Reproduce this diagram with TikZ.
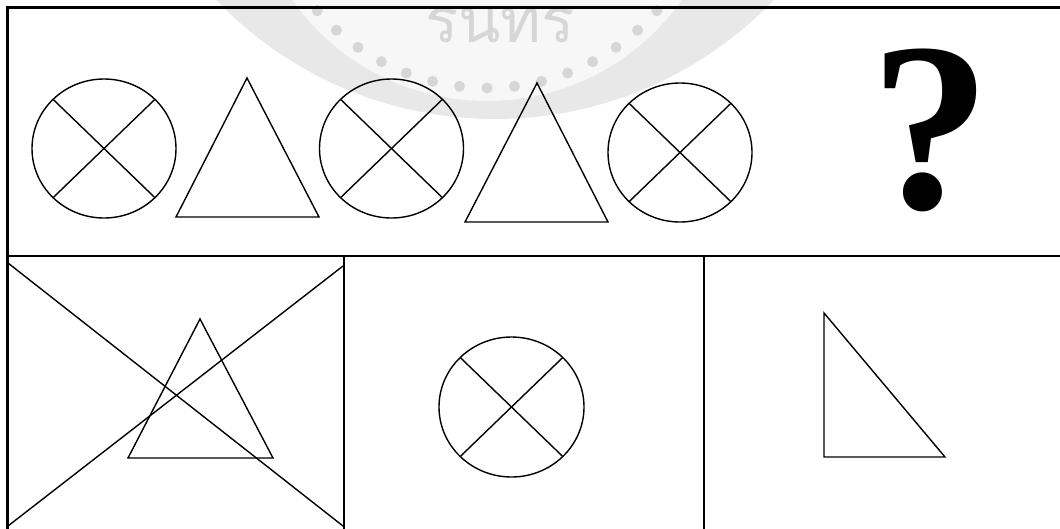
\documentclass[tikz,border=0pt]{standalone}
\usepackage{fontspec}
\setmainfont{Liberation Serif}
\newfontfamily\thaifont[Script=Thai]{Loma}
\usepackage{tikz}

\tikzset{
  figline/.style={line width=1.4pt,line join=miter},
  frameline/.style={line width=2.4pt},
  seal/.style={fill=black!9,draw=none},
}

\begin{document}
\begin{tikzpicture}[x=1pt,y=-1pt]
  \useasboundingbox (0,0) rectangle (1060,528);
  \begin{scope}
    \clip (0,0) rectangle (1060,528);
    % faint seal in the background
    \fill[seal] (495,-267) circle[radius=386];
    \fill[black!3] (487,-137) circle[radius=238];
    \foreach \a in {41,48,...,139}{
      \fill[black!16] (487,-137) ++(\a:225) circle[radius=5.5];}
    \node[text=black!16,font=\thaifont\fontsize{62}{62}\selectfont,anchor=base]
      (sealtext) at (500,42) {รนทร};
    % frame
    \draw[frameline] (7.5,540) -- (7.5,7.5) -- (1070,7.5);
    \draw[frameline] (7.5,256) -- (1070,256);
    \draw[frameline] (344,256) -- (344,540);
    \draw[frameline] (704,256) -- (704,540);
  \end{scope}

  % top row: the series
  \foreach \cx/\cy [count=\i] in {104/148.5,391.5/148.5,680/152.5}{
    \draw[figline] (\cx,\cy) ellipse[x radius=72,y radius=69.5];
    \draw[figline] (\cx,\cy) +(45:72 and 69.5) -- +(225:72 and 69.5);
    \draw[figline] (\cx,\cy) +(135:72 and 69.5) -- +(315:72 and 69.5);}
  \draw[figline] (247,78) -- (319,217) -- (176,217) -- cycle;
  \draw[figline] (537,83) -- (608,222) -- (465,222) -- cycle;
  \node[font=\bfseries\fontsize{241}{241}\selectfont,anchor=base,inner sep=0pt]
    (ask) at (931,208) {?};

  % bottom row: the choices
  \draw[figline] (8,263) -- (343,526);
  \draw[figline] (8,526) -- (343,266);
  \draw[figline] (200,319) -- (273,458) -- (128,458) -- cycle;
  \draw[figline] (511.5,407) ellipse[x radius=72.5,y radius=70];
  \draw[figline] (511.5,407) +(45:72.5 and 70) -- +(225:72.5 and 70);
  \draw[figline] (511.5,407) +(135:72.5 and 70) -- +(315:72.5 and 70);
  \draw[figline] (824,313) -- (945,457) -- (824,457) -- cycle;
\end{tikzpicture}
\end{document}
